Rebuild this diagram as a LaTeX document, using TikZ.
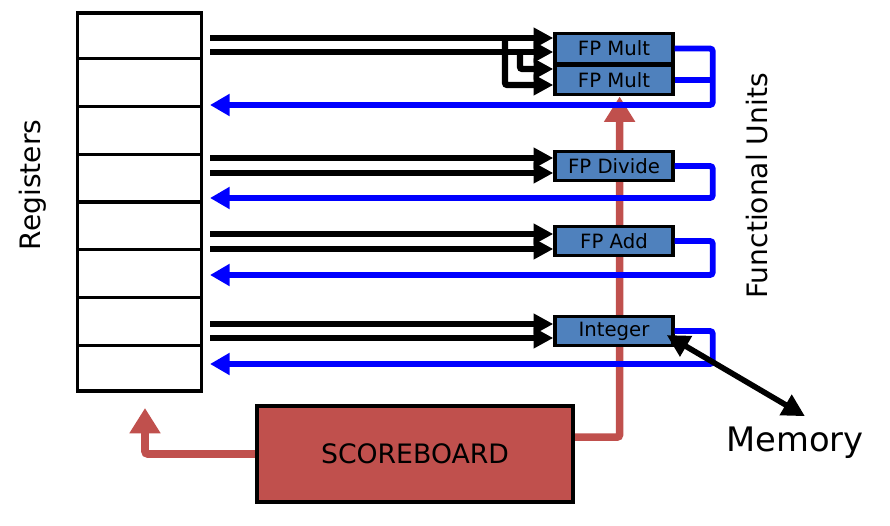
\documentclass[tikz,border=0pt]{standalone}
\usepackage{fontspec}
\setmainfont{DejaVu Sans}
\usepackage{tikz}
\usetikzlibrary{%
        arrows.meta,
        calc,
        positioning
    }
\definecolor{unitblue}{RGB}{79, 129, 189}
\definecolor{sbred}{RGB}{192, 80, 77}
\pgfdeclarelayer{background}
\pgfsetlayers{background,main}
\tikzset{%
    unit/.style={draw, line width=2.4pt, fill=unitblue, minimum width=2.95cm,
        minimum height=0.74cm, inner sep=0pt, font=\fontsize{14}{16}\selectfont},
    bus/.style={line width=4.4pt, rounded corners=1.5pt,
        -{Triangle[length=14pt, width=14pt]}},
    ret/.style={line width=4.2pt, blue, rounded corners=2pt,
        -{Triangle[length=14pt, width=15pt]}},
    ctl/.style={line width=5.5pt, sbred, rounded corners=2pt,
        -{Triangle[length=18pt, width=21pt]}},
    sidetext/.style={font=\fontsize{20}{24}\selectfont, rotate=90}
}

\begin{document}
\begin{tikzpicture}[x=0.025cm, y=-0.025cm]

    \useasboundingbox (0, 0) rectangle (890, 526);

    % register file
    \node[draw, line width=2.4pt, minimum width=3.1cm, minimum height=9.45cm,
        inner sep=0pt] (regs) at (139.5, 202) {};
    \foreach \val in {1, ..., 7}{%
        \draw[line width=2.2pt] ($(regs.north west)!\val/8!(regs.south west)$)
            -- ($(regs.north east)!\val/8!(regs.south east)$);
    };
    \node[sidetext] (reglabel) at (33, 185) {Registers};

    % functional units
    \node[unit] (mult1) at (614, 48.5) {FP Mult};
    \node[unit] (mult2) at (614, 80) {FP Mult};
    \node[unit] (div) at (614, 166) {FP Divide};
    \node[unit] (add) at (614, 241) {FP Add};
    \node[unit] (int) at (614, 331) {Integer};
    \node[sidetext] (fulabel) at (757, 186) {Functional Units};

    \node[draw, line width=2.6pt, fill=sbred, minimum width=7.9cm,
        minimum height=2.4cm, font=\fontsize{19}{23}\selectfont]
        (score) at (415, 454) {SCOREBOARD};
    \node[font=\fontsize{24}{28}\selectfont] (mem) at (795, 443) {Memory};

    % scoreboard control
    \coordinate (sbin) at (145, 408);
    \begin{pgfonlayer}{background}
        \draw[ctl] ([yshift=12pt] score.east) -| ([xshift=4pt] mult2.south);
        \draw[ctl] (score.west) -| (sbin);
    \end{pgfonlayer}

    % operands to the multipliers
    \coordinate (ma) at (210, 38);
    \coordinate (mb) at (210, 52);
    \coordinate (mc) at (520, 69);
    \coordinate (md) at (505, 85);
    \draw[bus] (ma) -- (mult1.west |- ma);
    \draw[bus] (mb) -- (mult1.west |- mb);
    \draw[bus] (mb -| mc) -- (mc) -- (mult2.west |- mc);
    \draw[bus] (ma -| md) -- (md) -- (mult2.west |- md);

    % results back to the registers
    \coordinate (mret) at (210, 105);
    \draw[ret] (mult1.east) -- ++(38, 0) |- (mret);
    \draw[ret, -] (mult2.east) -- ++(38, 0);

    \foreach \fu/\ya/\yb/\yr in {div/158/173/198, add/234/249/275,
            int/324/338/364}{%
        \coordinate (\fu1) at (210, \ya);
        \coordinate (\fu2) at (210, \yb);
        \coordinate (\fu3) at (210, \yr);
        \draw[bus] (\fu1) -- (\fu.west |- \fu1);
        \draw[bus] (\fu2) -- (\fu.west |- \fu2);
        \draw[ret] (\fu.east) -- ++(38, 0) |- (\fu3);
    };

    \draw[line width=4pt, {Triangle[length=16pt, width=16pt]}-{Triangle[length=16pt, width=16pt]}]
        ([shift={(-8, 4)}] int.east) -- ([shift={(10, -6)}] mem.north);

\end{tikzpicture}
\end{document}
